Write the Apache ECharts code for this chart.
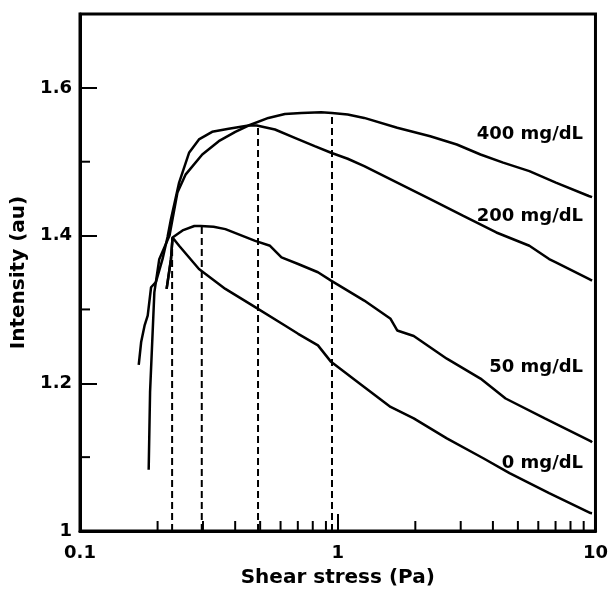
<!DOCTYPE html>
<html>
<head>
<meta charset="utf-8">
<script src="https://cdn.jsdelivr.net/npm/echarts@6/dist/echarts.min.js"></script>
<style>
  html, body { margin: 0; padding: 0; background: #fff; }
  #chart { width: 611px; height: 593px; }
</style>
</head>
<body>
<div id="chart"></div>
<script>
// shear stress (Pa) / intensity (au) for each glucose level
const stress400 = [0.1847, 0.187, 0.1943, 0.203, 0.2225, 0.2285, 0.2388, 0.2572, 0.2981, 0.3455, 0.4005, 0.4506, 0.5382, 0.6237, 0.7224, 0.8625, 0.95, 1.093, 1.267, 1.701, 2.285, 2.897, 3.58, 4.383, 5.54, 7.02, 9.42, 9.7]
const int400 = [1.083, 1.188, 1.323, 1.368, 1.400, 1.4222, 1.4582, 1.4829, 1.5098, 1.5278, 1.5405, 1.549, 1.5593, 1.5647, 1.5661, 1.5669, 1.566, 1.5638, 1.5593, 1.5459, 1.5345, 1.5233, 1.5098, 1.4987, 1.4873, 1.4717, 1.4536, 1.452]

const stress200 = [0.169, 0.1727, 0.178, 0.1831, 0.1887, 0.197, 0.209, 0.2186, 0.2253, 0.2424, 0.2649, 0.2894, 0.3256, 0.3776, 0.4506, 0.4851, 0.5708, 0.6815, 0.8137, 0.942, 1.093, 1.267, 1.701, 2.285, 3.071, 4.125, 5.54, 6.61, 7.02, 9.42, 9.7]
const int200 = [1.225, 1.2559, 1.278, 1.2917, 1.330, 1.337, 1.368, 1.398, 1.4222, 1.4717, 1.5121, 1.5302, 1.5405, 1.5445, 1.549, 1.549, 1.5436, 1.5324, 1.521, 1.5121, 1.504, 1.494, 1.4717, 1.4492, 1.4266, 1.4042, 1.3862, 1.3682, 1.3638, 1.3413, 1.339]

const stress50 = [0.2168, 0.2254, 0.2286, 0.25, 0.2777, 0.2938, 0.3297, 0.3665, 0.4783, 0.5462, 0.605, 0.702, 0.838, 0.942, 1.267, 1.603, 1.701, 1.972, 2.65, 3.58, 4.48, 6.36, 9.57, 9.7]
const int50 = [1.3278, 1.368, 1.3975, 1.407, 1.413, 1.4131, 1.412, 1.4087, 1.3929, 1.3862, 1.3705, 1.3615, 1.3503, 1.339, 1.312, 1.2873, 1.2715, 1.264, 1.2333, 1.2064, 1.1794, 1.1524, 1.1218, 1.12]

const stress0 = [0.2168, 0.2254, 0.2286, 0.2424, 0.2894, 0.3665, 0.4783, 0.6237, 0.702, 0.838, 0.942, 1.194, 1.603, 1.972, 2.65, 3.67, 4.64, 6.61, 9.57, 9.7]
const int0 = [1.3278, 1.368, 1.3975, 1.3862, 1.3547, 1.3278, 1.3031, 1.2783, 1.267, 1.2513, 1.229, 1.2019, 1.168, 1.1524, 1.1254, 1.0985, 1.0783, 1.0513, 1.0243, 1.024]

// peak positions (dashed drop lines)
const peakStress = [0.2277, 0.2968, 0.4906, 0.95]
const peakInt = [1.3975, 1.4131, 1.549, 1.566]

const curveNames = ['400 mg/dL', '200 mg/dL', '50 mg/dL', '0 mg/dL']
const labelStress = 8.95
const labelInt = [1.537, 1.426, 1.221, 1.091]

const xMinorTicks = [0.2, 0.3, 0.4, 0.5, 0.6, 0.7, 0.8, 0.9, 2, 3, 4, 5, 6, 7, 8, 9]
const yMinorTicks = [1.1, 1.3, 1.5]

const font = 'DejaVu Sans'
const zip = (xs, ys) => xs.map((x, i) => [x, ys[i]])

const chart = echarts.init(document.getElementById('chart'))

const curves = [[stress400, int400], [stress200, int200], [stress50, int50], [stress0, int0]]

const series = []

curves.forEach(([xs, ys], i) => {
  series.push({
    name: curveNames[i],
    type: 'line',
    data: zip(xs, ys),
    symbol: 'none',
    lineStyle: { color: '#000', width: 2.5 },
    z: 3
  })
})

peakStress.forEach((x, i) => {
  series.push({
    type: 'line',
    data: [[x, 1], [x, peakInt[i]]],
    symbol: 'none',
    lineStyle: { color: '#000', width: 2, type: [7, 4] },
    z: 2
  })
})

// curve labels, right aligned
series.push({
  type: 'custom',
  data: labelInt.map((y, i) => [labelStress, y, i]),
  renderItem: (params, api) => {
    const p = api.coord([api.value(0), api.value(1)])
    return {
      type: 'text',
      x: p[0],
      y: p[1],
      style: {
        text: curveNames[api.value(2)],
        fill: '#000',
        font: 'bold 18px "' + font + '"',
        align: 'right',
        verticalAlign: 'middle'
      }
    }
  },
  z: 4
})

// minor ticks drawn through the axes' scales
series.push({
  type: 'custom',
  data: xMinorTicks.map(v => [v, 1]),
  renderItem: (params, api) => {
    const p = api.coord([api.value(0), 1])
    return {
      type: 'line',
      shape: { x1: p[0], y1: p[1], x2: p[0], y2: p[1] - 10 },
      style: { stroke: '#000', lineWidth: 2 }
    }
  },
  z: 5
})

series.push({
  type: 'custom',
  data: yMinorTicks.map(v => [0.1, v]),
  renderItem: (params, api) => {
    const p = api.coord([0.1, api.value(1)])
    return {
      type: 'line',
      shape: { x1: p[0], y1: p[1], x2: p[0] + 10, y2: p[1] },
      style: { stroke: '#000', lineWidth: 2 }
    }
  },
  z: 5
})

const option = {
  animation: false,
  backgroundColor: '#fff',
  grid: {
    left: 80,
    right: 11,
    top: 14,
    bottom: 60,
    show: true,
    borderColor: '#000',
    borderWidth: 3
  },
  xAxis: {
    type: 'log',
    logBase: 10,
    min: 0.1,
    max: 10,
    name: 'Shear stress (Pa)',
    nameLocation: 'middle',
    nameGap: 37,
    nameTextStyle: { color: '#000', fontFamily: font, fontWeight: 'bold', fontSize: 20 },
    axisLine: { lineStyle: { color: '#000', width: 3 } },
    axisTick: { inside: true, length: 17, lineStyle: { color: '#000', width: 2 } },
    axisLabel: { color: '#000', fontFamily: font, fontWeight: 'bold', fontSize: 18, margin: 13 },
    splitLine: { show: false }
  },
  yAxis: {
    type: 'value',
    min: 1,
    max: 1.7,
    interval: 0.2,
    name: 'Intensity (au)',
    nameLocation: 'middle',
    nameGap: 46,
    nameTextStyle: { color: '#000', fontFamily: font, fontWeight: 'bold', fontSize: 20 },
    axisLine: { lineStyle: { color: '#000', width: 3 } },
    axisTick: { inside: true, length: 17, lineStyle: { color: '#000', width: 2 } },
    axisLabel: {
      color: '#000', fontFamily: font, fontWeight: 'bold', fontSize: 18, margin: 8,
      formatter: v => (v > 1.65 ? '' : String(+v.toFixed(1)))
    },
    splitLine: { show: false }
  },
  series: series
}

chart.setOption(option)
</script>
</body>
</html>
